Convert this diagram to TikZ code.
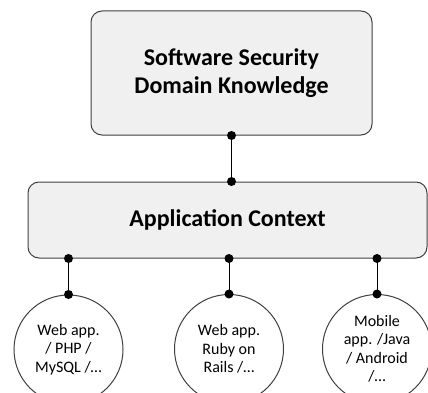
\documentclass[tikz,border=0pt]{standalone}
\usepackage{fontspec}
\setmainfont{Carlito}
\usetikzlibrary{positioning}

\tikzset{
  layer/.style={draw=black!75, line width=1pt, fill=black!6, rounded corners=11pt,
    align=center, font=\bfseries\fontsize{24}{28}\selectfont},
  stack/.style={draw=black!75, line width=1pt, fill=white, circle, minimum size=109pt,
    inner sep=0pt, align=center, font=\fontsize{16}{18.5}\selectfont},
  joint/.style={fill=black, radius=4.5pt}
}

\begin{document}
\begin{tikzpicture}[x=1pt,y=1pt]
  \useasboundingbox (0,0) rectangle (428,392);
  \clip (0,0) rectangle (428,392);

  \node[layer, minimum width=281pt, minimum height=124pt] (know) at (231.5,319)
    {Software Security\\Domain Knowledge};
  \node[layer, minimum width=399pt, minimum height=76pt] (ctx) at (227.5,172)
    {Application Context};

  \node[stack] (php) at (68.5,42.5) {Web app.\\/ PHP /\\MySQL /…};
  \node[stack] (ruby) at (229,43) {Web app.\\Ruby on\\Rails /…};
  \node[stack] (mobile) at (377,43) {Mobile\\app. /Java\\/ Android\\/…};

  % knowledge down to the context box
  \draw[line width=1pt] (know.south) -- (know.south |- ctx.north);
  \fill[joint] (know.south) circle;
  \fill[joint] (know.south |- ctx.north) circle;

  % context down to each application stack
  \foreach \app in {php,ruby,mobile} {
    \draw[line width=1pt] (\app.north |- ctx.south) -- (\app.north);
    \fill[joint] (\app.north |- ctx.south) circle;
    \fill[joint] (\app.north) circle;
  }
\end{tikzpicture}
\end{document}
